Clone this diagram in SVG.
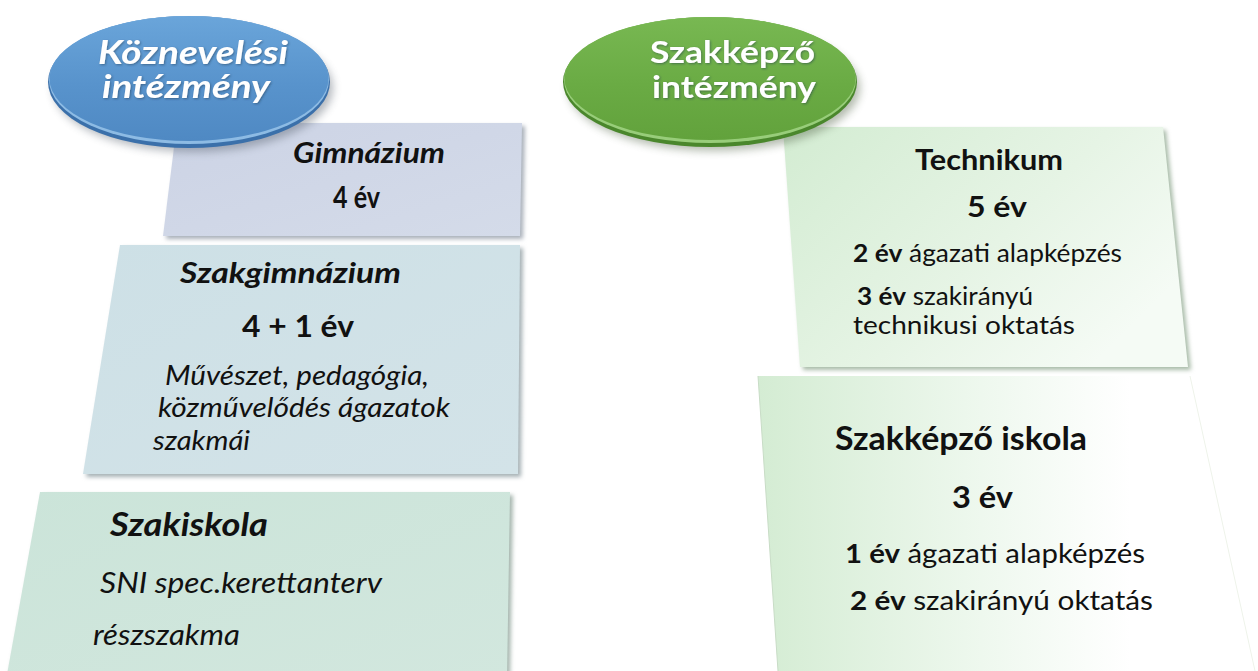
<svg xmlns="http://www.w3.org/2000/svg" width="1258" height="671" viewBox="0 0 1258 671">
<defs>
<style>
.t{font-family:Lato,"Liberation Sans",sans-serif;fill:#111;}
.b{font-weight:bold;}
.i{font-style:italic;}
.w{fill:#fff;font-weight:bold;}
</style>
<filter id="sh" x="-10%" y="-10%" width="120%" height="130%"><feGaussianBlur stdDeviation="2"/></filter>
<filter id="esh" x="-20%" y="-20%" width="140%" height="160%"><feGaussianBlur stdDeviation="4"/></filter>
<filter id="tsh" x="-10%" y="-20%" width="120%" height="140%"><feDropShadow dx="1" dy="1" stdDeviation="0.8" flood-color="#1c3550" flood-opacity="0.5"/></filter>
<linearGradient id="blueG" x1="0" y1="0" x2="0" y2="1">
<stop offset="0" stop-color="#6aa5da"/><stop offset="0.55" stop-color="#5893cc"/><stop offset="1" stop-color="#4f89c3"/>
</linearGradient>
<linearGradient id="greenG" x1="0" y1="0" x2="0" y2="1">
<stop offset="0" stop-color="#78b852"/><stop offset="0.55" stop-color="#6aab44"/><stop offset="1" stop-color="#62a23c"/>
</linearGradient>
<linearGradient id="gimG" x1="0" y1="0" x2="1" y2="1">
<stop offset="0" stop-color="#ccd3e5"/><stop offset="1" stop-color="#d4dbe9"/>
</linearGradient>
<linearGradient id="szgG" x1="0" y1="0" x2="1" y2="1">
<stop offset="0" stop-color="#cde0e6"/><stop offset="1" stop-color="#d3e3e8"/>
</linearGradient>
<linearGradient id="szkG" x1="0" y1="0" x2="1" y2="1">
<stop offset="0" stop-color="#cbe4d9"/><stop offset="1" stop-color="#d2e7de"/>
</linearGradient>
<linearGradient id="tecG" x1="0" y1="0" x2="1" y2="0.6">
<stop offset="0" stop-color="#d3ecd2"/><stop offset="0.6" stop-color="#e6f4e5"/><stop offset="1" stop-color="#f5fbf5"/>
</linearGradient>
<linearGradient id="iskG" x1="0" y1="0" x2="1" y2="0">
<stop offset="0" stop-color="#d4ecd3"/><stop offset="0.45" stop-color="#eef8ee"/><stop offset="0.75" stop-color="#ffffff"/><stop offset="1" stop-color="#ffffff"/>
</linearGradient>
</defs>
<rect width="1258" height="671" fill="#ffffff"/>

<g id="gimnazium">
<polygon points="180,126 525,126 523,239 166,239" fill="#a9b0ba" filter="url(#sh)"/>
<polygon points="177,123 522,123 520,236 163,236" fill="url(#gimG)"/>
<text class="t b i" x="293" y="163" font-size="29" textLength="152" lengthAdjust="spacingAndGlyphs">Gimnázium</text>
<text class="t b" x="333" y="208" font-size="30" textLength="47" lengthAdjust="spacingAndGlyphs">4 év</text>
</g>

<g id="szakgimnazium">
<polygon points="123,248 523,248 521,477 86,477" fill="#a6b1b5" filter="url(#sh)"/>
<polygon points="120,245 520,245 518,474 83,474" fill="url(#szgG)"/>
<text class="t b i" x="180" y="283" font-size="29" textLength="221" lengthAdjust="spacingAndGlyphs">Szakgimnázium</text>
<text class="t b" x="242" y="337" font-size="31" textLength="112" lengthAdjust="spacingAndGlyphs">4 + 1 év</text>
<text class="t i" x="165" y="385" font-size="27" textLength="264" lengthAdjust="spacingAndGlyphs">Művészet, pedagógia,</text>
<text class="t i" x="158" y="417" font-size="27" textLength="292" lengthAdjust="spacingAndGlyphs">közművelődés ágazatok</text>
<text class="t i" x="153" y="450" font-size="27" textLength="97" lengthAdjust="spacingAndGlyphs">szakmái</text>
</g>

<g id="szakiskola">
<polygon points="43,495 513,495 510,680 9,680" fill="#a5b5ad" filter="url(#sh)"/>
<polygon points="40,492 510,492 507,680 6,680" fill="url(#szkG)"/>
<text class="t b i" x="110" y="536" font-size="33" textLength="158" lengthAdjust="spacingAndGlyphs">Szakiskola</text>
<text class="t i" x="100" y="593" font-size="28" textLength="282" lengthAdjust="spacingAndGlyphs">SNI spec.kerettanterv</text>
<text class="t i" x="93" y="645" font-size="28" textLength="147" lengthAdjust="spacingAndGlyphs">részszakma</text>
</g>

<g id="technikum">
<polygon points="786,130 1166,130 1191,370 803,370" fill="#a9bca9" filter="url(#sh)"/>
<polygon points="783,127 1163,127 1188,367 800,367" fill="url(#tecG)"/>
<text class="t b" x="915" y="170" font-size="28" textLength="148" lengthAdjust="spacingAndGlyphs">Technikum</text>
<text class="t b" x="967" y="217" font-size="29" textLength="60" lengthAdjust="spacingAndGlyphs">5 év</text>
<text class="t" x="853" y="262" font-size="25" textLength="269" lengthAdjust="spacingAndGlyphs"><tspan class="b">2 év</tspan> ágazati alapképzés</text>
<text class="t" x="857" y="305" font-size="25" textLength="176" lengthAdjust="spacingAndGlyphs"><tspan class="b">3 év</tspan> szakirányú</text>
<text class="t" x="853" y="334" font-size="25" textLength="222" lengthAdjust="spacingAndGlyphs">technikusi oktatás</text>
</g>

<g id="szakkepzo-iskola">
<polygon points="758,376 1190,376 1255,671 778,671" fill="url(#iskG)"/>
<polyline points="1190,376 1255,671" fill="none" stroke="#eef3ea" stroke-width="1"/>
<polyline points="758,376 778,671" fill="none" stroke="#c8dcc6" stroke-width="1"/>
<text class="t b" x="835" y="450" font-size="33" textLength="252" lengthAdjust="spacingAndGlyphs">Szakképző iskola</text>
<text class="t b" x="952" y="508" font-size="31" textLength="61" lengthAdjust="spacingAndGlyphs">3 év</text>
<text class="t" x="845" y="563" font-size="27" textLength="300" lengthAdjust="spacingAndGlyphs"><tspan class="b">1 év</tspan> ágazati alapképzés</text>
<text class="t" x="850" y="610" font-size="27" textLength="303" lengthAdjust="spacingAndGlyphs"><tspan class="b">2 év</tspan> szakirányú oktatás</text>
</g>

<g id="koznevelesi-intezmeny">
<ellipse cx="193" cy="88" rx="140" ry="64" fill="#5a6470" opacity="0.45" filter="url(#esh)"/>
<ellipse cx="189" cy="82" rx="141" ry="66" fill="#3b70aa"/>
<ellipse cx="189" cy="80" rx="140" ry="64" fill="#8dbbe4"/>
<ellipse cx="189" cy="78.5" rx="139.5" ry="62.5" fill="url(#blueG)"/>
<text class="t w i" x="98" y="64" font-size="32" textLength="190" lengthAdjust="spacingAndGlyphs" filter="url(#tsh)">Köznevelési</text>
<text class="t w i" x="102" y="98" font-size="32" textLength="168" lengthAdjust="spacingAndGlyphs" filter="url(#tsh)">intézmény</text>
</g>

<g id="szakkepzo-intezmeny">
<ellipse cx="714" cy="88" rx="146" ry="63" fill="#5a6a50" opacity="0.45" filter="url(#esh)"/>
<ellipse cx="710" cy="82" rx="147" ry="65" fill="#4a872c"/>
<ellipse cx="710" cy="80" rx="146" ry="63" fill="#98cd7a"/>
<ellipse cx="710" cy="78.5" rx="145.5" ry="61.5" fill="url(#greenG)"/>
<text class="t w" x="650" y="63" font-size="31" textLength="165" lengthAdjust="spacingAndGlyphs" filter="url(#tsh)">Szakképző</text>
<text class="t w" x="652" y="98" font-size="31" textLength="164" lengthAdjust="spacingAndGlyphs" filter="url(#tsh)">intézmény</text>
</g>
</svg>
